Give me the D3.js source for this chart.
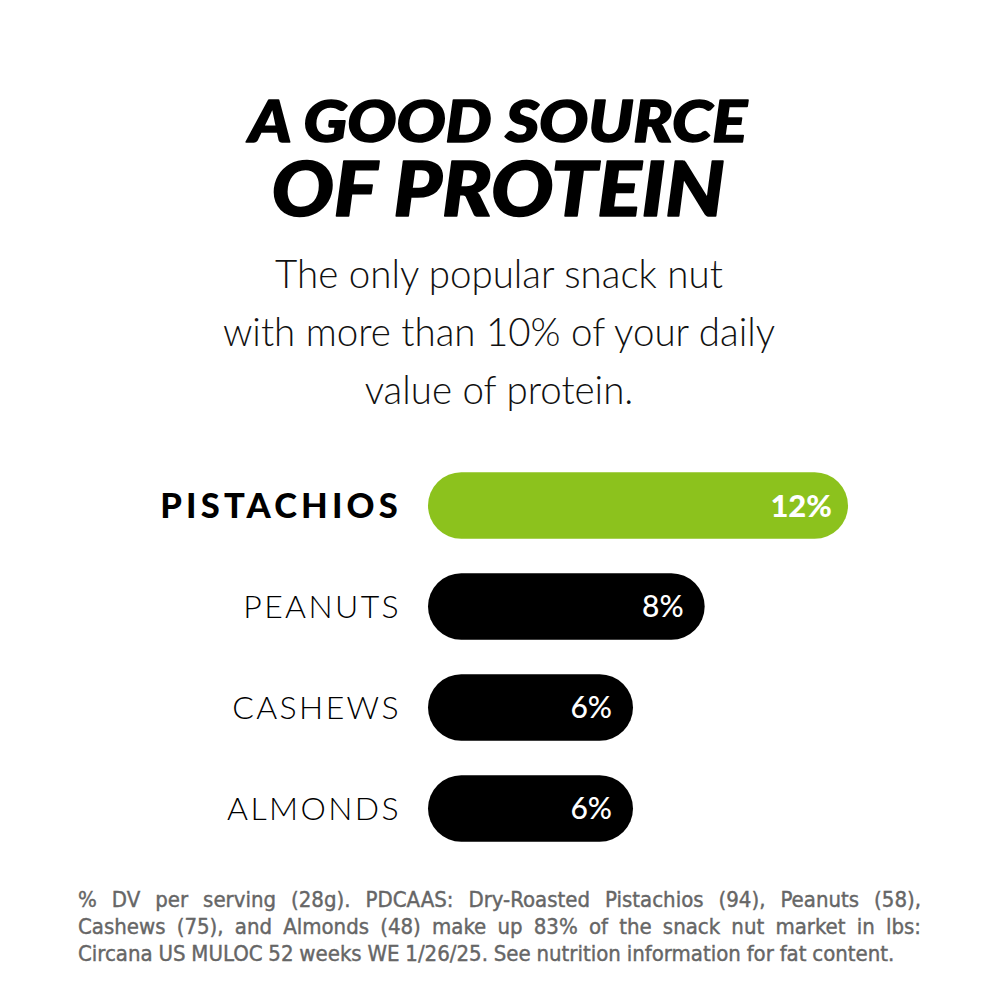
<!DOCTYPE html>
<html lang="en">
  <head>
    <meta charset="UTF-8">
    <title>A Good Source of Protein</title>
    <style>
      body { margin: 0; background: #fff; }
      svg { display: block; }
    </style>
    <script src="https://d3js.org/d3.v7.min.js"></script>
    <script>
      var nuts = ["PISTACHIOS", "PEANUTS", "CASHEWS", "ALMONDS"];
      var protein = [12, 8, 6, 6];
      var valueLabels = ["12%", "8%", "6%", "6%"];
      var titleLines = ["A GOOD SOURCE", "OF PROTEIN"];
      var subtitleLines = ["The only popular snack nut",
                           "with more than 10% of your daily",
                           "value of protein."];
      var footLines = ["% DV per serving (28g). PDCAAS: Dry-Roasted Pistachios (94), Peanuts (58),",
                       "Cashews (75), and Almonds (48) make up 83% of the snack nut market in lbs:",
                       "Circana US MULOC 52 weeks WE 1/26/25. See nutrition information for fat content."];

      window.onload = function () {
        var width = 1000, height = 1000;
        var green = "#8cc21d";

        var svg = d3.select("body").append("svg")
              .attr("width", width)
              .attr("height", height);

        // title (two separate blocks, heavy italic)
        var titleSize = [58, 76];
        var titleY = [142, 216];
        var titleW = [498, 453];
        svg.selectAll(".title").data(titleLines).enter()
          .append("text").attr("class", "title")
          .attr("x", 498)
          .attr("y", function (d, i) { return titleY[i]; })
          .attr("text-anchor", "middle")
          .attr("textLength", function (d, i) { return titleW[i]; })
          .attr("lengthAdjust", "spacingAndGlyphs")
          .style("font-family", "Lato, 'Open Sans', sans-serif")
          .style("font-weight", 900)
          .style("font-style", "italic")
          .style("font-size", function (d, i) { return titleSize[i] + "px"; })
          .style("stroke", "#000")
          .style("stroke-width", 1.6)
          .style("stroke-linejoin", "round")
          .text(function (d) { return d; });

        // subtitle
        svg.selectAll(".sub").data(subtitleLines).enter()
          .append("text").attr("class", "sub")
          .attr("x", 499)
          .attr("y", function (d, i) { return 288 + i * 58; })
          .attr("text-anchor", "middle")
          .style("font-family", "Lato, sans-serif")
          .style("font-weight", 300)
          .style("font-size", "38.5px")
          .style("fill", "#111")
          .text(function (d) { return d; });

        // bars
        var y = d3.scaleBand().domain(nuts).range([455, 859]).paddingInner(0.34).paddingOuter(0.17);
        var x = d3.scaleLinear().domain([0, 12]).range([418, 848]);
        var barLeft = 428;
        var bh = y.bandwidth();

        var rows = svg.selectAll(".row").data(nuts).enter()
          .append("g").attr("class", "row")
          .attr("transform", function (d) { return "translate(0," + y(d) + ")"; });

        rows.append("rect")
          .attr("x", barLeft)
          .attr("y", 0)
          .attr("height", bh)
          .attr("width", function (d, i) { return x(protein[i]) - barLeft; })
          .attr("rx", bh / 2)
          .attr("ry", bh / 2)
          .style("fill", function (d, i) { return i === 0 ? green : "#000"; });

        rows.append("text")
          .attr("x", function (d, i) { return i === 0 ? 402 : 401; })
          .attr("y", bh / 2)
          .attr("dy", "0.36em")
          .attr("text-anchor", "end")
          .style("font-family", "Lato, sans-serif")
          .style("font-weight", function (d, i) { return i === 0 ? 900 : 300; })
          .style("font-size", function (d, i) { return i === 0 ? "34.5px" : "32px"; })
          .style("letter-spacing", function (d, i) { return i === 0 ? "4.2px" : "2.4px"; })
          .style("fill", "#000")
          .text(function (d) { return d; });

        rows.append("text")
          .attr("x", function (d, i) { return x(protein[i]) - (i === 0 ? 16 : 21); })
          .attr("y", bh / 2)
          .attr("dy", "0.36em")
          .attr("text-anchor", "end")
          .style("font-family", "Lato, sans-serif")
          .style("font-weight", function (d, i) { return i === 0 ? 900 : 500; })
          .style("font-size", function (d, i) { return i === 0 ? "31px" : "30px"; })
          .style("fill", "#fff")
          .text(function (d, i) { return valueLabels[i]; });

        // footnote, justified
        var left = 78, right = 921;
        footLines.forEach(function (line, li) {
          var g = svg.append("g").attr("transform", "translate(0," + (907 + li * 27) + ")");
          var words = line.split(" ");
          var t = g.selectAll("text").data(words).enter().append("text")
            .attr("y", 0)
            .style("font-family", "'Liberation Sans Narrow', 'DejaVu Sans Condensed', sans-serif")
            .style("font-size", "22px")
            .style("fill", "#666")
            .style("stroke", "#666")
            .style("stroke-width", 0.4)
            .text(function (d) { return d; });
          var widths = [];
          t.each(function () { widths.push(this.getComputedTextLength()); });
          var total = d3.sum(widths);
          var gap = li < footLines.length - 1 ? (right - left - total) / (words.length - 1) : 5.8;
          var cx = left;
          t.attr("x", function (d, i) { var p = cx; cx += widths[i] + gap; return p; });
        });
      };
    </script>
  </head>
  <body>
  </body>
</html>
